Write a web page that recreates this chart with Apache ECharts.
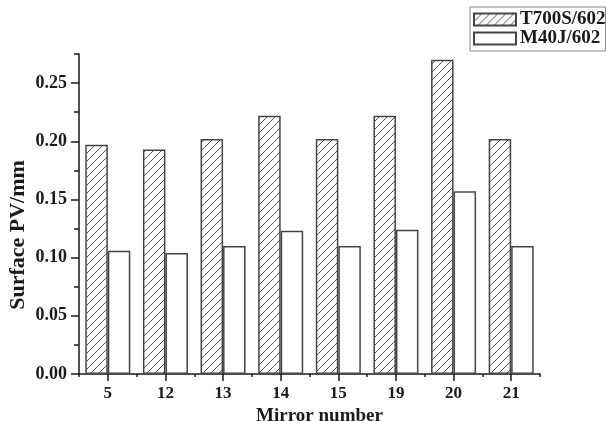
<!DOCTYPE html>
<html>
<head>
<meta charset="utf-8">
<script src="https://cdn.jsdelivr.net/npm/echarts@6/dist/echarts.min.js"></script>
<style>
  html, body { margin: 0; padding: 0; background: #fff; }
  #chart { width: 606px; height: 421px; }
</style>
</head>
<body>
<div id="chart"></div>
<script>
// Mirror numbers on the x axis
const mirrors = ['5', '12', '13', '14', '15', '19', '20', '21'];
// Surface PV (mm) per mirror for each material
const t700s = [0.197, 0.193, 0.202, 0.222, 0.202, 0.222, 0.270, 0.202];
const m40j = [0.106, 0.104, 0.110, 0.123, 0.110, 0.124, 0.157, 0.110];
// Labelled ticks and small in-between ticks on the value axis
const yTicks = [0, 0.05, 0.10, 0.15, 0.20, 0.25];
const yMinorTicks = [0.025, 0.075, 0.125, 0.175, 0.225, 0.275];
const yMax = 0.275;

// Diagonal hatching used for the T700S/602 bars
function hatchPattern() {
  const c = document.createElement('canvas');
  const s = 8;
  c.width = s; c.height = s;
  const g = c.getContext('2d');
  g.fillStyle = '#fff';
  g.fillRect(0, 0, s, s);
  g.strokeStyle = '#555';
  g.lineWidth = 1;
  g.beginPath();
  g.moveTo(-1, s + 1); g.lineTo(s + 1, -1);
  g.moveTo(-1, 1); g.lineTo(1, -1);
  g.moveTo(s - 1, s + 1); g.lineTo(s + 1, s - 1);
  g.stroke();
  return c;
}

const serif = '"Liberation Serif", "Times New Roman", serif';
const ink = '#1a1a1a';
const chart = echarts.init(document.getElementById('chart'), null, { renderer: 'canvas' });

chart.setOption({
  backgroundColor: '#fff',
  animation: false,
  grid: { left: 79, right: 66, top: 54, bottom: 47, outerBoundsMode: 'none', containLabel: false },
  legend: {
    orient: 'vertical',
    left: 470,
    top: 7,
    padding: [3, 0, 3, 3],
    itemGap: 0,
    itemWidth: 42,
    itemHeight: 12,
    borderColor: '#888',
    borderWidth: 1,
    textStyle: { fontFamily: serif, fontWeight: 'bold', fontSize: 19, color: ink, padding: [0, 0, 0, -1] },
    data: [
      { name: 'T700S/602', icon: 'rect' },
      { name: 'M40J/602', icon: 'rect' }
    ]
  },
  xAxis: [
    {
      type: 'category',
      data: mirrors,
      name: 'Mirror number',
      nameLocation: 'middle',
      nameGap: 26,
      nameTextStyle: { fontFamily: serif, fontWeight: 'bold', fontSize: 19, color: ink, padding: [0, 0, 0, 20] },
      axisLine: { lineStyle: { color: ink, width: 1.5 } },
      axisTick: { show: true, length: 3, lineStyle: { color: ink, width: 1.5 } },
      axisLabel: { fontFamily: serif, fontWeight: 'bold', fontSize: 17, color: ink, margin: 11 }
    },
    {
      type: 'category',
      data: mirrors,
      position: 'bottom',
      axisLine: { show: false },
      axisTick: { show: true, alignWithLabel: true, length: 7, lineStyle: { color: ink, width: 1.5 } },
      axisLabel: { show: false }
    }
  ],
  yAxis: [
    {
      type: 'value',
      min: 0,
      max: yMax,
      name: 'Surface PV/mm',
      nameLocation: 'middle',
      nameGap: 50,
      nameMoveOverlap: false,
      nameTextStyle: { fontFamily: serif, fontWeight: 'bold', fontSize: 22, color: ink, padding: [0, 42, 0, 0] },
      splitLine: { show: false },
      axisLine: { show: true, lineStyle: { color: ink, width: 1.5 } },
      axisTick: { show: true, length: 8, customValues: yTicks, lineStyle: { color: ink, width: 1.5 } },
      axisLabel: {
        customValues: yTicks,
        fontFamily: serif, fontWeight: 'bold', fontSize: 18, color: ink, margin: 12,
        formatter: v => v.toFixed(2)
      }
    },
    {
      type: 'value',
      min: 0,
      max: yMax,
      position: 'left',
      splitLine: { show: false },
      axisLine: { show: false },
      axisTick: { show: true, length: 5, customValues: yMinorTicks, lineStyle: { color: ink, width: 1.5 } },
      axisLabel: { show: false }
    }
  ],
  series: [
    {
      name: 'T700S/602',
      type: 'bar',
      data: t700s,
      barWidth: 22.5,
      barGap: '0%',
      itemStyle: { color: { image: hatchPattern(), repeat: 'repeat' }, borderColor: '#444', borderWidth: 1.5 }
    },
    {
      name: 'M40J/602',
      type: 'bar',
      data: m40j,
      barWidth: 22.5,
      barGap: '0%',
      itemStyle: { color: '#fff', borderColor: '#444', borderWidth: 1.5 }
    }
  ]
});
</script>
</body>
</html>
